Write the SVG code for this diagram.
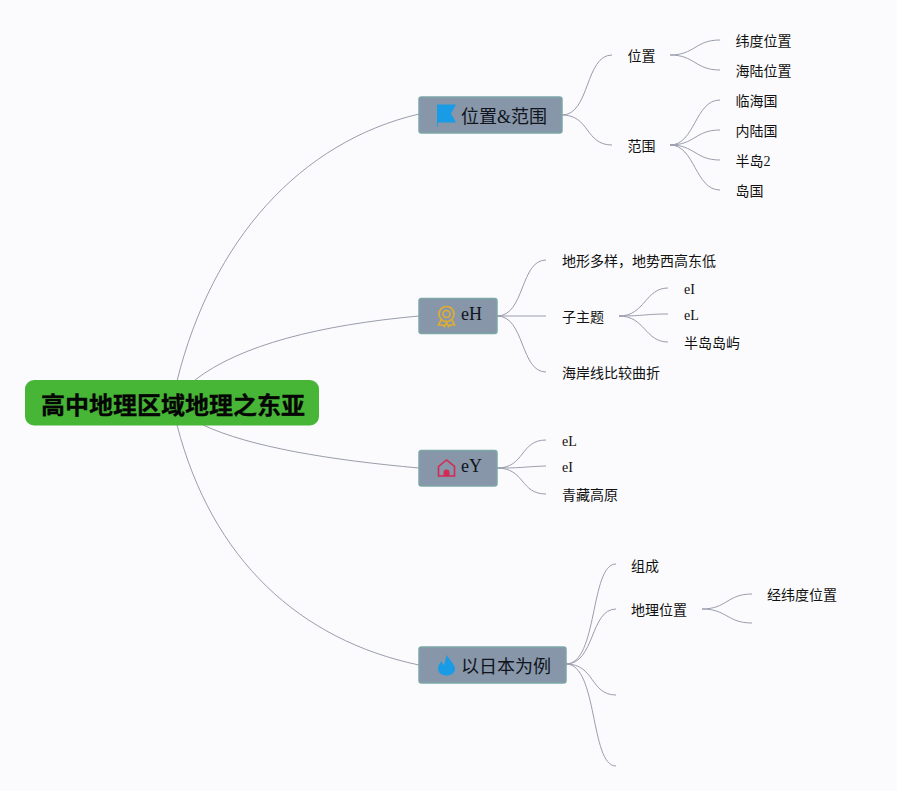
<svg xmlns="http://www.w3.org/2000/svg" width="897" height="791" viewBox="0 0 897 791">
<style>
text{font-family:"Liberation Serif","Noto Sans CJK SC",serif;fill:#111}
.leaf{font-size:14px}
.main{font-size:18px;fill:#10141c}
.root{font-size:24px;font-weight:700;fill:#050505;stroke:#050505;stroke-width:.3}
.box{fill:#8796a8;stroke:#7ca6a6;stroke-width:1.5}
#connectors path{fill:none;stroke:#9a9dac;stroke-width:1}
</style>
<rect width="897" height="791" fill="#fbfbfd"/>
<g id="connectors">
<path d="M177 381C212 240 300 142 419 114"/>
<path d="M195 380C240 345 320 325 419 316"/>
<path d="M203 425C250 447 330 460 419 468"/>
<path d="M177 425C212 560 300 640 419 665"/>
<path d="M562 115C590 115 585 55 612 55"/>
<path d="M562 115C590 115 585 145 612 145"/>
<path d="M670 55C695 55 695 40 720 40"/>
<path d="M670 55C695 55 695 70 720 70"/>
<path d="M670 145C695 145 695 100 720 100"/>
<path d="M670 145C695 145 695 130 720 130"/>
<path d="M670 145C695 145 695 160 720 160"/>
<path d="M670 145C695 145 695 190 720 190"/>
<path d="M497 316C525 316 520 260 546 260"/>
<path d="M497 316H546"/>
<path d="M497 316C525 316 520 372 546 372"/>
<path d="M619 316C645 316 645 288 668 288"/>
<path d="M619 316C645 316 645 314 668 314"/>
<path d="M619 316C645 316 645 342 668 342"/>
<path d="M497 468C525 468 520 440 546 440"/>
<path d="M497 468C525 468 520 467 546 466"/>
<path d="M497 468C525 468 520 494 546 494"/>
<path d="M566 664C598 664 590 564 616 564"/>
<path d="M566 664C595 664 590 609 616 609"/>
<path d="M566 664C595 664 590 695 616 695"/>
<path d="M566 664C598 664 590 766 616 766"/>
<path d="M702 609C727 609 727 594 752 594"/>
<path d="M702 609C727 609 727 623 752 623"/>
</g>
<g id="root"><rect x="25" y="380" width="294" height="45.500" rx="9" fill="#47b536"/><text class="root" x="41" y="414">高中地理区域地理之东亚</text></g>
<g id="node-1"><rect class="box" x="419" y="97" width="143" height="36" rx="2.500"/>
<path d="M437 104.500H456L451 113.500L456 122.500H438V126.500H437Z" fill="#1a9be6"/>
<text class="main" x="461" y="122.500">位置&amp;范围</text></g>
<g id="node-2"><rect class="box" x="419" y="298.500" width="78" height="35" rx="2.500"/>
<g fill="none" stroke="#e0ad33" stroke-width="1.700"><circle cx="446.500" cy="314" r="7.500"/><circle cx="446.500" cy="314" r="3.500"/><path d="M441 320L438.500 325L442.500 325L444.500 326.500L446.500 322.500L448.500 326.500L450.500 325L454.500 325L452 320"/></g>
<text class="main" x="461" y="320">eH</text></g>
<g id="node-3"><rect class="box" x="419" y="450.500" width="78" height="35.500" rx="2.500"/>
<path d="M438.500 466.500L446.500 460L454.500 466.500V476H438.500Z" fill="none" stroke="#d42a55" stroke-width="1.600"/>
<path d="M443.500 476V472.500A3 3 0 0 1 449.500 472.500V476Z" fill="#d42a55"/>
<text class="main" x="461" y="472">eY</text></g>
<g id="node-4"><rect class="box" x="419" y="647" width="147" height="36" rx="2.500"/>
<path d="M447 655C449 660 455 664 455 669C455 673 451 675.500 446.500 675.500C441.500 675.500 438 672.500 438 668.500C438 665 440 663 441.500 661C442 663 443 664.500 444 665C445 662 445.500 658 447 655Z" fill="#1a9be6"/>
<text class="main" x="461" y="673">以日本为例</text></g>
<g id="n1-1"><text class="leaf" x="627.500" y="61">位置</text></g>
<g id="n1-1-1"><text class="leaf" x="735.500" y="46">纬度位置</text></g>
<g id="n1-1-2"><text class="leaf" x="735.500" y="76">海陆位置</text></g>
<g id="n1-2"><text class="leaf" x="627.500" y="151">范围</text></g>
<g id="n1-2-1"><text class="leaf" x="735.500" y="106">临海国</text></g>
<g id="n1-2-2"><text class="leaf" x="735.500" y="136">内陆国</text></g>
<g id="n1-2-3"><text class="leaf" x="735.500" y="166">半岛2</text></g>
<g id="n1-2-4"><text class="leaf" x="735.500" y="196">岛国</text></g>
<g id="n2-1"><text class="leaf" x="562" y="266">地形多样，地势西高东低</text></g>
<g id="n2-2"><text class="leaf" x="562" y="322">子主题</text></g>
<g id="n2-2-1"><text class="leaf" x="684" y="294">eI</text></g>
<g id="n2-2-2"><text class="leaf" x="684" y="320">eL</text></g>
<g id="n2-2-3"><text class="leaf" x="684" y="348">半岛岛屿</text></g>
<g id="n2-3"><text class="leaf" x="562" y="378">海岸线比较曲折</text></g>
<g id="n3-1"><text class="leaf" x="562" y="446">eL</text></g>
<g id="n3-2"><text class="leaf" x="562" y="472">eI</text></g>
<g id="n3-3"><text class="leaf" x="562" y="500">青藏高原</text></g>
<g id="n4-1"><text class="leaf" x="631" y="570.500">组成</text></g>
<g id="n4-2"><text class="leaf" x="631" y="615">地理位置</text></g>
<g id="n4-2-1"><text class="leaf" x="767" y="600">经纬度位置</text></g>
</svg>
